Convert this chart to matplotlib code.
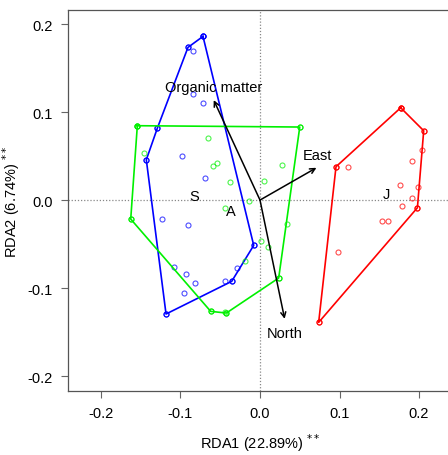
import matplotlib
matplotlib.use("Agg")
import matplotlib.pyplot as plt

plt.rcParams['font.family'] = ['Liberation Sans', 'DejaVu Sans']

# sitios S (azul)
s_x = [-0.0717, -0.0906, -0.0838, -0.0847, -0.0717, -0.129, -0.143, -0.0976, -0.0696, -0.1236,
       -0.090, -0.0079, -0.0284, -0.108, -0.0935, -0.0818, -0.0951, -0.044, -0.0356, -0.1182]
s_y = [0.186, 0.1735, 0.169, 0.120, 0.110, 0.082, 0.0458, 0.0503, 0.0246, -0.022,
       -0.0284, -0.0515, -0.0773, -0.0765, -0.0845, -0.0947, -0.1053, -0.0917, -0.0924, -0.1295]
s_hull = [0, 11, 18, 19, 6, 5, 1, 0]

# sitios A (verde)
a_x = [-0.1543, 0.050, -0.0654, -0.1463, -0.059, -0.0545, -0.0377, 0.0277, 0.0047, -0.0138,
       -0.0444, -0.1626, 0.0336, 0.0017, 0.010, -0.0193, 0.0235, -0.0423, -0.0444, -0.062]
a_y = [0.0845, 0.083, 0.070, 0.0534, 0.039, 0.0424, 0.0201, 0.0398, 0.0212, -0.0011,
       -0.0091, -0.0216, -0.0273, -0.0462, -0.0538, -0.0697, -0.0886, -0.1284, -0.1270, -0.1265]
a_hull = [0, 1, 16, 17, 19, 11, 0]

# sitios J (rojo)
j_x = [0.177, 0.2059, 0.2043, 0.1908, 0.0956, 0.1112, 0.1757, 0.1984, 0.1912, 0.1786,
       0.198, 0.1531, 0.161, 0.0981, 0.0738]
j_y = [0.1049, 0.0788, 0.0568, 0.0443, 0.0379, 0.0375, 0.0174, 0.0148, 0.0019, -0.0065,
       -0.0087, -0.0239, -0.0239, -0.0595, -0.139]
j_hull = [0, 1, 10, 14, 4, 0]

grupos = [("S", s_x, s_y, s_hull, "#0000ff", (-0.083, 0.005)),
          ("A", a_x, a_y, a_hull, "#00f000", (-0.037, -0.0125)),
          ("J", j_x, j_y, j_hull, "#ff0000", (0.159, 0.0065))]

# variables ambientales (flechas)
var_nombres = ["Organic matter", "East", "North"]
var_x = [-0.0582, 0.071, 0.031]
var_y = [0.1136, 0.0367, -0.135]
etiq_x = [-0.0582, 0.0717, 0.031]
etiq_y = [0.1288, 0.0515, -0.151]

fig = plt.figure(figsize=(4.48, 4.56), dpi=100)
ax = fig.add_axes([68/448, (456-392)/456, (452-68)/448, (392-11)/456])

ax.axhline(0, color="#888888", lw=0.9, ls=(0, (1, 1.5)), zorder=0)
ax.axvline(0, color="#888888", lw=0.9, ls=(0, (1, 1.5)), zorder=0)

for nombre, gx, gy, hull, col, pos in grupos:
    ax.plot(gx, gy, "o", mfc="none", mec=col, ms=3.6, mew=0.8, alpha=0.7)
    ax.plot([gx[i] for i in hull], [gy[i] for i in hull], color=col, lw=1.2)
    ax.plot([gx[i] for i in hull], [gy[i] for i in hull], "o", mfc="none", mec=col, ms=3.6, mew=0.8)
    ax.text(pos[0], pos[1], nombre, fontsize=10.5, ha="center", va="center")

for i in range(len(var_nombres)):
    ax.annotate("", xy=(var_x[i], var_y[i]), xytext=(0, 0),
                arrowprops=dict(arrowstyle="->", color="black", lw=1.1, mutation_scale=9,
                                shrinkA=0, shrinkB=0))
    ax.text(etiq_x[i], etiq_y[i], var_nombres[i], fontsize=10.5, ha="center", va="center")

ax.set_xlim(-0.2415, 0.2415)
ax.set_ylim(-0.217, 0.216)
ax.set_xticks([-0.2, -0.1, 0.0, 0.1, 0.2])
ax.set_yticks([-0.2, -0.1, 0.0, 0.1, 0.2])
ax.set_xticklabels(["-0.2", "-0.1", "0.0", "0.1", "0.2"])
ax.set_yticklabels(["-0.2", "-0.1", "0.0", "0.1", "0.2"])
ax.tick_params(direction="out", length=5, width=0.8, color="#666666", labelsize=10.5, pad=6)
for lado in ["left", "bottom", "top", "right"]:
    ax.spines[lado].set_color("#555555")
    ax.spines[lado].set_linewidth(0.9)

ax.set_xlabel(r"RDA1 (22.89%) $^{**}$", fontsize=10.5, labelpad=8)
ax.set_ylabel(r"RDA2 (6.74%) $^{**}$", fontsize=10.5)
ax.yaxis.set_label_coords(-0.12, 0.5)

fig.savefig("out.png", dpi=100)
